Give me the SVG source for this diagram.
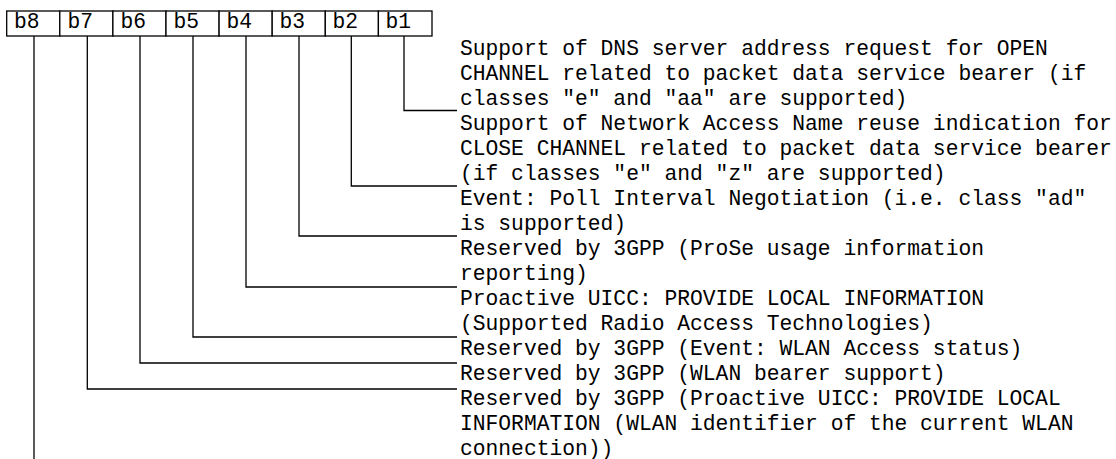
<svg xmlns="http://www.w3.org/2000/svg" width="1116" height="459" viewBox="0 0 1116 459">
  <style>
    .cell { fill: #ffffff; stroke: #000000; stroke-width: 1.3; }
    .t { font-family: 'Courier New', 'Liberation Mono', monospace; font-size: 21.3px; fill: #000000; }
    .conn { fill: none; stroke: #000000; stroke-width: 1.3; }
  </style>
  <rect width="1116" height="459" fill="#ffffff"/>
  <g id="bits">
    <g id="bit-b8"><rect class="cell" x="6.7" y="11" width="53.1" height="25"/><text class="t" x="14" y="28">b8</text></g>
    <g id="bit-b7"><rect class="cell" x="59.8" y="11" width="53.1" height="25"/><text class="t" x="67.5" y="28">b7</text></g>
    <g id="bit-b6"><rect class="cell" x="112.9" y="11" width="53.1" height="25"/><text class="t" x="120.5" y="28">b6</text></g>
    <g id="bit-b5"><rect class="cell" x="166" y="11" width="53.1" height="25"/><text class="t" x="173.5" y="28">b5</text></g>
    <g id="bit-b4"><rect class="cell" x="219.1" y="11" width="53.1" height="25"/><text class="t" x="226.5" y="28">b4</text></g>
    <g id="bit-b3"><rect class="cell" x="272.2" y="11" width="53.1" height="25"/><text class="t" x="279.5" y="28">b3</text></g>
    <g id="bit-b2"><rect class="cell" x="325.3" y="11" width="53.1" height="25"/><text class="t" x="332.5" y="28">b2</text></g>
    <g id="bit-b1"><rect class="cell" x="378.4" y="11" width="53.6" height="25"/><text class="t" x="385.5" y="28">b1</text></g>
  </g>
  <g id="connectors">
    <polyline class="conn" points="404,36 404,110.5 457,110.5"/>
    <polyline class="conn" points="351.3,36 351.3,186 457,186"/>
    <polyline class="conn" points="299,36 299,236 457,236"/>
    <polyline class="conn" points="246,36 246,287 457,287"/>
    <polyline class="conn" points="193,36 193,337 457,337"/>
    <polyline class="conn" points="140,36 140,363 457,363"/>
    <polyline class="conn" points="87.3,36 87.3,389 457,389"/>
    <polyline class="conn" points="34,36 34,459"/>
  </g>
  <g id="desc-b1">
    <text class="t" x="460" y="55">Support of DNS server address request for OPEN</text>
    <text class="t" x="460" y="80">CHANNEL related to packet data service bearer (if</text>
    <text class="t" x="460" y="105">classes "e" and "aa" are supported)</text>
  </g>
  <g id="desc-b2">
    <text class="t" x="460" y="130">Support of Network Access Name reuse indication for</text>
    <text class="t" x="460" y="155">CLOSE CHANNEL related to packet data service bearer</text>
    <text class="t" x="460" y="180">(if classes "e" and "z" are supported)</text>
  </g>
  <g id="desc-b3">
    <text class="t" x="460" y="205">Event: Poll Interval Negotiation (i.e. class "ad"</text>
    <text class="t" x="460" y="230">is supported)</text>
  </g>
  <g id="desc-b4">
    <text class="t" x="460" y="255">Reserved by 3GPP (ProSe usage information</text>
    <text class="t" x="460" y="280">reporting)</text>
  </g>
  <g id="desc-b5">
    <text class="t" x="460" y="305">Proactive UICC: PROVIDE LOCAL INFORMATION</text>
    <text class="t" x="460" y="330">(Supported Radio Access Technologies)</text>
  </g>
  <g id="desc-b6">
    <text class="t" x="460" y="355">Reserved by 3GPP (Event: WLAN Access status)</text>
  </g>
  <g id="desc-b7">
    <text class="t" x="460" y="380">Reserved by 3GPP (WLAN bearer support)</text>
  </g>
  <g id="desc-b8">
    <text class="t" x="460" y="405">Reserved by 3GPP (Proactive UICC: PROVIDE LOCAL</text>
    <text class="t" x="460" y="430">INFORMATION (WLAN identifier of the current WLAN</text>
    <text class="t" x="460" y="454.5">connection))</text>
  </g>
</svg>
